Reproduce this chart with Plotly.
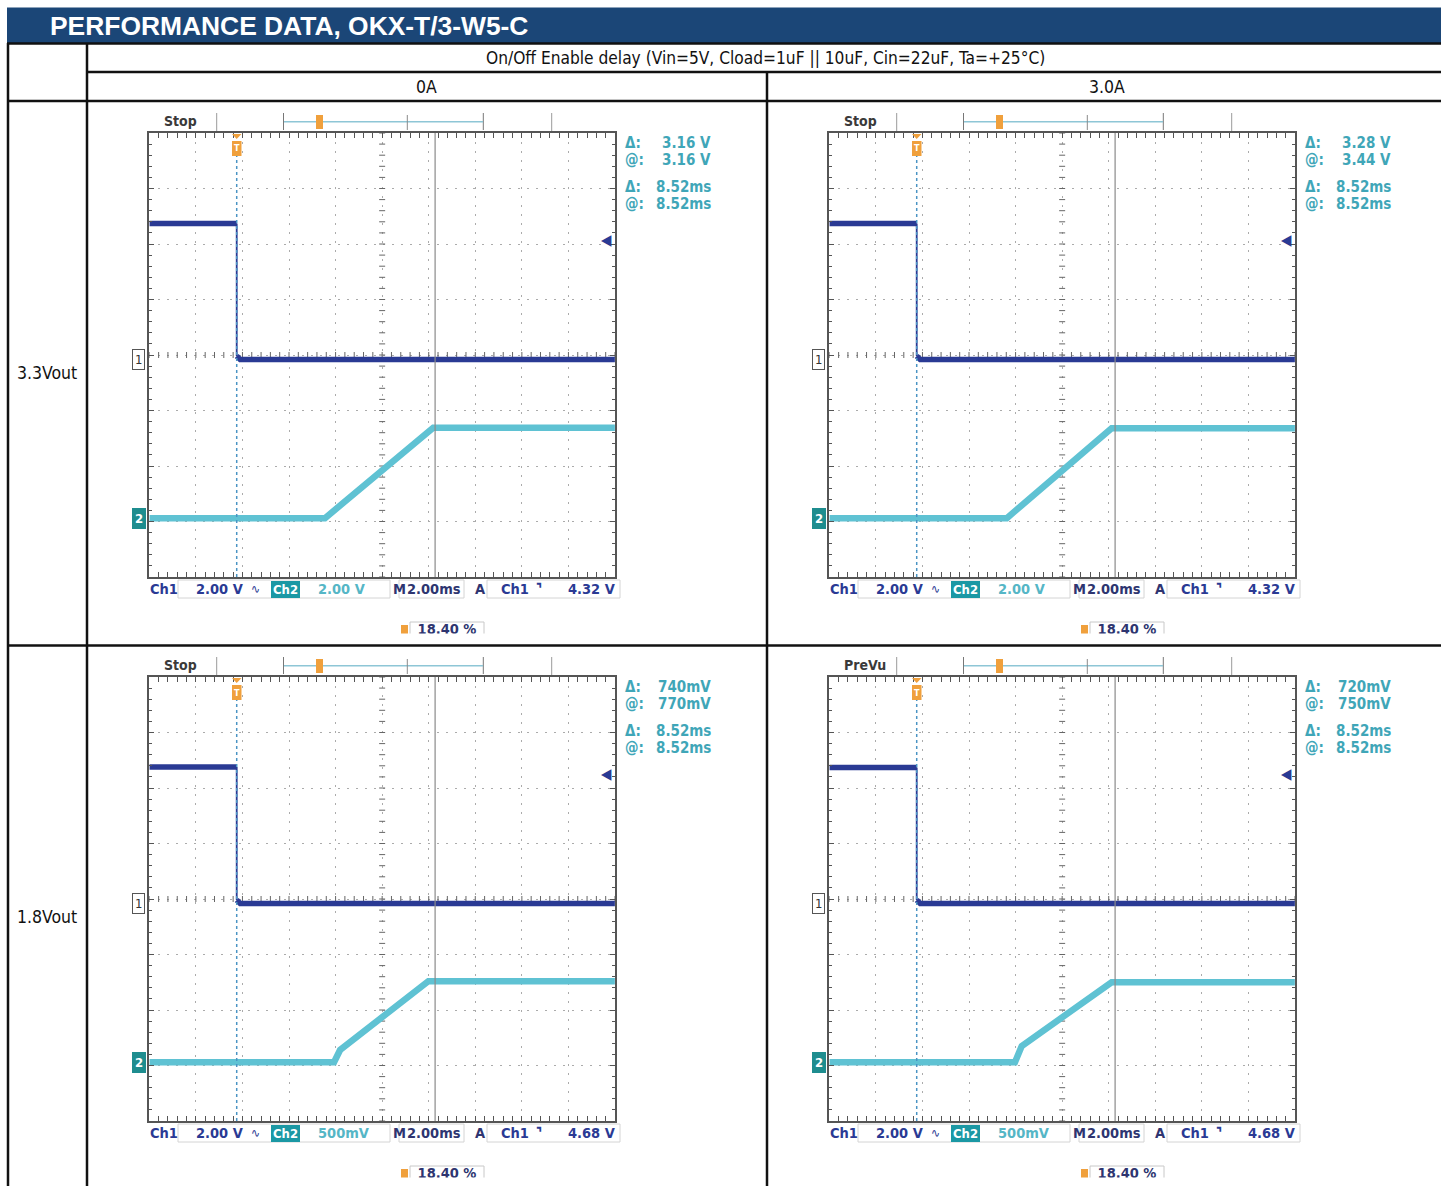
import numpy as np
import plotly.graph_objects as go

W, H = 1441, 1186

# ---------------- data ----------------
TITLE = "PERFORMANCE DATA, OKX-T/3-W5-C"
CONDITIONS = "On/Off Enable delay (Vin=5V, Cload=1uF || 10uF, Cin=22uF, Ta=+25°C)"
LOAD_LABELS = ["0A", "3.0A"]
VOUT_LABELS = ["3.3Vout", "1.8Vout"]

# panels: 3.3V/0A, 3.3V/3.0A, 1.8V/0A, 1.8V/3.0A
ACQ_STATE = ["Stop", "Stop", "Stop", "PreVu"]
CH1_VDIV = [2.0, 2.0, 2.0, 2.0]
CH2_VDIV = [2.0, 2.0, 0.5, 0.5]
CH1_VDIV_TXT = ["2.00 V", "2.00 V", "2.00 V", "2.00 V"]
CH2_VDIV_TXT = ["2.00 V", "2.00 V", "500mV", "500mV"]
TIME_DIV_MS = 2.0
TIME_DIV_TXT = "2.00ms"
TRIG_LEVEL_V = [4.32, 4.32, 4.68, 4.68]
TRIG_LEVEL_TXT = ["4.32 V", "4.32 V", "4.68 V", "4.68 V"]
TRIG_POS_TXT = "18.40 %"
CURSOR_MS = [8.52, 8.52, 8.52, 8.52]
READ_V_DELTA = ["3.16 V", "3.28 V", "740mV", "720mV"]
READ_V_AT = ["3.16 V", "3.44 V", "770mV", "750mV"]
READ_T_DELTA = ["8.52ms", "8.52ms", "8.52ms", "8.52ms"]
READ_T_AT = ["8.52ms", "8.52ms", "8.52ms", "8.52ms"]

# Ch1 = On/Off enable (V), Ch2 = Vout (V); time in ms relative to trigger
CH1_T_TL = [-3.75, 0.0, 0.0, 0.15, 16.24]
CH1_V_TL = [4.90, 4.90, 0.12, 0.0, 0.0]
CH1_T_TR = [-3.75, 0.0, 0.0, 0.15, 16.24]
CH1_V_TR = [4.90, 4.90, 0.12, 0.0, 0.0]
CH1_T_BL = [-3.75, 0.0, 0.0, 0.15, 16.24]
CH1_V_BL = [4.92, 4.92, 0.12, 0.0, 0.0]
CH1_T_BR = [-3.75, 0.0, 0.0, 0.15, 16.24]
CH1_V_BR = [4.90, 4.90, 0.12, 0.0, 0.0]

CH2_T_TL = [-3.75, 3.79, 8.44, 16.24]
CH2_V_TL = [0.0, 0.0, 3.26, 3.26]
CH2_T_TR = [-3.75, 3.87, 8.37, 16.24]
CH2_V_TR = [0.0, 0.0, 3.24, 3.24]
CH2_T_BL = [-3.75, 4.18, 4.44, 8.23, 16.24]
CH2_V_BL = [0.0, 0.0, 0.11, 0.73, 0.73]
CH2_T_BR = [-3.75, 4.22, 4.51, 8.37, 16.24]
CH2_V_BR = [0.0, 0.0, 0.145, 0.72, 0.72]

CH1_T = [CH1_T_TL, CH1_T_TR, CH1_T_BL, CH1_T_BR]
CH1_V = [CH1_V_TL, CH1_V_TR, CH1_V_BL, CH1_V_BR]
CH2_T = [CH2_T_TL, CH2_T_TR, CH2_T_BL, CH2_T_BR]
CH2_V = [CH2_V_TL, CH2_V_TR, CH2_V_BL, CH2_V_BR]

# ---------------- layout constants ----------------
SCOPE_FONT = "DejaVu Sans Condensed, DejaVu Sans, sans-serif"
TABLE_FONT = "Liberation Sans Narrow, Arial Narrow, DejaVu Sans Condensed, sans-serif"
TITLE_FONT = "Liberation Sans, Arial, sans-serif"
CH1_COLOR = "#2a3a94"
CH2_COLOR = "#5fc2d3"
READ_COLOR = "#3fa6b8"
FRAME_COLOR = "#555555"
GRID_COLOR = "#ababab"
ORANGE = "#f0a03c"
STATUS_DARK = "#2e3570"

FRAME_L, FRAME_R, FRAME_T, FRAME_B = 149.3, 615.0, 133.0, 577.0
N_XDIV, N_YDIV = 10, 8
TRIG_DIV = 1.877
CH1_GND_DIV = 3.92
CH2_GND_DIV = 1.06
PANEL_DX = [0, 680, 0, 680]
PANEL_DY = [0, 0, 544, 544]


def X(px):
    return px / W


def Y(py):
    return 1 - py / H


shapes = []
annotations = []
layout_axes = {}
fig = go.Figure()


def text(t, x, y, size, color, family=SCOPE_FONT, xanchor="left", yanchor="middle", **kw):
    annotations.append(dict(text=t, x=X(x), y=Y(y), xref="paper", yref="paper", showarrow=False,
                            xanchor=xanchor, yanchor=yanchor,
                            font=dict(size=size, color=color, family=family), **kw))


def line(x0, y0, x1, y1, color, width=1.0, dash="solid"):
    shapes.append(dict(type="line", xref="paper", yref="paper", x0=X(x0), y0=Y(y0), x1=X(x1), y1=Y(y1),
                       line=dict(color=color, width=width, dash=dash)))


def rect(x0, y0, x1, y1, color=None, fill=None, width=1.0):
    shapes.append(dict(type="rect", xref="paper", yref="paper", x0=X(x0), y0=Y(y1), x1=X(x1), y1=Y(y0),
                       line=dict(color=color or "rgba(0,0,0,0)", width=width if color else 0),
                       fillcolor=fill or "rgba(0,0,0,0)"))


def aname(kind, n):
    return f"{kind}axis" if n == 1 else f"{kind}axis{n}"


def aref(kind, n):
    return kind if n == 1 else f"{kind}{n}"


# ---------------- table ----------------
rect(7, 7.5, 1441, 43, fill="#1b4677")
text("<b>" + TITLE + "</b>", 48, 26, 26.4, "white", family=TITLE_FONT)
TL = "#111111"
line(7, 43.5, 1441, 43.5, TL, 2.5)
line(8, 43, 8, 1186, TL, 2.5)
line(87, 43, 87, 1186, TL, 2.5)
line(87, 72, 1441, 72, TL, 2.5)
line(8, 101, 1441, 101, TL, 2.5)
line(767, 72, 767, 1186, TL, 2.5)
line(8, 645.5, 1441, 645.5, TL, 2.5)
text(CONDITIONS, 766, 58, 17.2, TL, family=TABLE_FONT, xanchor="center")
text(LOAD_LABELS[0], 427, 87, 17.5, TL, family=TABLE_FONT, xanchor="center")
text(LOAD_LABELS[1], 1107, 87, 17.5, TL, family=TABLE_FONT, xanchor="center")
text(VOUT_LABELS[0], 47, 373, 17.5, TL, family=TABLE_FONT, xanchor="center")
text(VOUT_LABELS[1], 47, 917, 17.5, TL, family=TABLE_FONT, xanchor="center")

# ---------------- scope panels ----------------
t_left = -TRIG_DIV * TIME_DIV_MS
t_right = (N_XDIV - TRIG_DIV) * TIME_DIV_MS

for p in range(4):
    dx, dy = PANEL_DX[p], PANEL_DY[p]
    xa, xaux = 2 * p + 1, 2 * p + 2
    yb, yc, yaux = 3 * p + 1, 3 * p + 2, 3 * p + 3
    s1, s2 = CH1_VDIV[p], CH2_VDIV[p]
    r1 = [-CH1_GND_DIV * s1, (N_YDIV - CH1_GND_DIV) * s1]
    r2 = [-CH2_GND_DIV * s2, (N_YDIV - CH2_GND_DIV) * s2]

    common = dict(showline=True, linecolor=FRAME_COLOR, linewidth=2, mirror="allticks",
                  showgrid=True, gridcolor=GRID_COLOR, gridwidth=1, griddash="2px,7px",
                  zeroline=False, showticklabels=False, ticks="inside", ticklen=5,
                  tickcolor=FRAME_COLOR, tickwidth=1, fixedrange=True)
    layout_axes[aname("x", xa)] = dict(common, domain=[X(FRAME_L + dx), X(FRAME_R + dx)],
                                       range=[t_left, t_right], anchor=aref("y", yb),
                                       tick0=t_left, dtick=TIME_DIV_MS,
                                       minor=dict(ticks="inside", ticklen=3, tickcolor=FRAME_COLOR,
                                                  dtick=TIME_DIV_MS / 5, tick0=t_left, showgrid=False))
    layout_axes[aname("y", yb)] = dict(common, domain=[Y(FRAME_B + dy), Y(FRAME_T + dy)],
                                       range=r1, anchor=aref("x", xa), tick0=r1[0], dtick=s1,
                                       minor=dict(ticks="inside", ticklen=3, tickcolor=FRAME_COLOR,
                                                  dtick=s1 / 5, tick0=r1[0], showgrid=False))
    layout_axes[aname("y", yc)] = dict(overlaying=aref("y", yb), anchor=aref("x", xa), range=r2,
                                       visible=False, fixedrange=True)
    # auxiliary axes (pixel space) used to clip the partially cut trigger-position readout
    layout_axes[aname("x", xaux)] = dict(domain=[X(130 + dx), X(720 + dx)], range=[130, 720],
                                         anchor=aref("y", yaux), visible=False, fixedrange=True)
    layout_axes[aname("y", yaux)] = dict(domain=[Y(633.5 + dy), Y(605 + dy)], range=[633.5, 605],
                                         anchor=aref("x", xaux), visible=False, fixedrange=True)

    # center-cross ticks
    xc = t_left + N_XDIV / 2 * TIME_DIV_MS
    yc1 = (r1[0] + r1[1]) / 2
    hx = 3.0 / ((FRAME_R - FRAME_L) / N_XDIV) * TIME_DIV_MS
    hy = 3.0 / ((FRAME_B - FRAME_T) / N_YDIV) * s1
    tx, ty = [], []
    for v in np.arange(t_left, t_right + 1e-9, TIME_DIV_MS / 5):
        tx += [v, v, None]
        ty += [yc1 - hy, yc1 + hy, None]
    for v in np.arange(r1[0], r1[1] + 1e-9, s1 / 5):
        tx += [xc - hx, xc + hx, None]
        ty += [v, v, None]
    fig.add_trace(go.Scatter(x=tx, y=ty, mode="lines", line=dict(color="#666666", width=1),
                             xaxis=aref("x", xa), yaxis=aref("y", yb), hoverinfo="skip", showlegend=False))

    # cursor and trigger-position lines
    shapes.append(dict(type="line", xref=aref("x", xa), yref=aref("y", yb) + " domain",
                       x0=CURSOR_MS[p], x1=CURSOR_MS[p], y0=0, y1=1, line=dict(color="#8a8a8a", width=1.2)))
    shapes.append(dict(type="line", xref=aref("x", xa), yref=aref("y", yb) + " domain",
                       x0=0, x1=0, y0=0, y1=0.97, line=dict(color="#4a94c4", width=1.5, dash="dot")))

    # waveforms: ch1 levels thick, fast falling edge thin
    t1, v1 = CH1_T[p], CH1_V[p]
    fall = int(np.argmax(np.diff(v1) < -1.0))
    for seg, wdt in ((slice(0, fall + 1), 5.5), (slice(fall, fall + 2), 1.8), (slice(fall + 1, None), 5.5)):
        fig.add_trace(go.Scatter(x=t1[seg], y=v1[seg], mode="lines",
                                 line=dict(color=CH1_COLOR, width=wdt), xaxis=aref("x", xa),
                                 yaxis=aref("y", yb), hoverinfo="skip", showlegend=False))
    fig.add_trace(go.Scatter(x=CH2_T[p], y=CH2_V[p], mode="lines",
                             line=dict(color=CH2_COLOR, width=6.5), xaxis=aref("x", xa),
                             yaxis=aref("y", yc), hoverinfo="skip", showlegend=False))

    # trigger level arrow
    annotations.append(dict(text="◀", x=t_right, y=TRIG_LEVEL_V[p], xref=aref("x", xa), yref=aref("y", yb),
                            showarrow=False, xanchor="right", yanchor="middle", xshift=-1,
                            font=dict(size=15, color=CH1_COLOR, family=SCOPE_FONT)))
    # channel ground markers
    annotations.append(dict(text="1", x=X(138.5 + dx), y=0, xref="paper", yref=aref("y", yb),
                            showarrow=False, xanchor="center", yanchor="middle",
                            bgcolor="white", bordercolor="#555555", borderwidth=1, borderpad=2,
                            font=dict(size=13, color="#333333", family=SCOPE_FONT)))
    annotations.append(dict(text="<b>2</b>", x=X(139 + dx), y=0, xref="paper", yref=aref("y", yc),
                            showarrow=False, xanchor="center", yanchor="middle",
                            bgcolor="#1e8d8f", bordercolor="#1e8d8f", borderwidth=1, borderpad=2,
                            font=dict(size=13, color="white", family=SCOPE_FONT)))

    # top bar
    text("<b>" + ACQ_STATE[p] + "</b>", 162 + dx, 121 + dy, 14, "#3a3a3a")
    line(216.7 + dx, 113 + dy, 216.7 + dx, 131 + dy, "#9a9a9a", 1)
    line(551.7 + dx, 113 + dy, 551.7 + dx, 131 + dy, "#9a9a9a", 1)
    line(283.5 + dx, 113 + dy, 283.5 + dx, 130 + dy, "#777777", 1)
    line(483.3 + dx, 113 + dy, 483.3 + dx, 130 + dy, "#777777", 1)
    line(284 + dx, 121.7 + dy, 483 + dx, 121.7 + dy, "#8ec6d6", 1.5)
    line(407.3 + dx, 115 + dy, 407.3 + dx, 130 + dy, "#8a8a8a", 1)
    rect(316 + dx, 115 + dy, 323 + dx, 129 + dy, fill=ORANGE)
    # trigger position marker
    shapes.append(dict(type="path", xref="paper", yref="paper",
                       path=f"M {X(232 + dx)},{Y(134 + dy)} L {X(241.5 + dx)},{Y(134 + dy)} L {X(236.7 + dx)},{Y(139 + dy)} Z",
                       fillcolor=ORANGE, line=dict(width=0)))
    rect(232 + dx, 141 + dy, 241.5 + dx, 156 + dy, fill=ORANGE)
    text("<b>T</b>", 236.8 + dx, 148.5 + dy, 9, "white", xanchor="center")

    # cursor readouts
    for i, (lab, val) in enumerate([("Δ:", READ_V_DELTA[p]), ("@:", READ_V_AT[p]),
                                    ("Δ:", READ_T_DELTA[p]), ("@:", READ_T_AT[p])]):
        yy = [143, 160, 187, 204][i] + dy
        text("<b>" + lab + "</b>", 623 + dx, yy, 15, READ_COLOR)
        text("<b>" + val + "</b>", 713 + dx, yy, 15, READ_COLOR, xanchor="right")

    # status line
    sy = 589 + dy
    rect(178 + dx, 580 + dy, 390 + dx, 598 + dy, color="#d4d4d4", width=1)
    rect(399 + dx, 580 + dy, 464 + dx, 598 + dy, color="#d4d4d4", width=1)
    rect(487 + dx, 580 + dy, 620 + dx, 598 + dy, color="#d4d4d4", width=1)
    text("<b>Ch1</b>", 148 + dx, sy, 14.5, CH1_COLOR)
    text("<b>" + CH1_VDIV_TXT[p] + "</b>", 194 + dx, sy, 14.5, CH1_COLOR)
    text("∿", 249 + dx, sy, 12, CH1_COLOR)
    rect(271 + dx, 581 + dy, 300 + dx, 598 + dy, fill="#1b98a4")
    text("<b>Ch2</b>", 285.5 + dx, sy, 13, "white", xanchor="center")
    text("<b>" + CH2_VDIV_TXT[p] + "</b>", 316 + dx, sy, 14.5, "#55b6c6")
    text("<b>M</b>", 391 + dx, sy, 14.5, STATUS_DARK)
    text("<b>" + TIME_DIV_TXT + "</b>", 405 + dx, sy, 14.5, STATUS_DARK)
    text("<b>A</b>", 473 + dx, sy, 14.5, STATUS_DARK)
    text("<b>Ch1</b>", 499 + dx, sy, 14.5, CH1_COLOR)
    text("<b>⌝</b>", 534 + dx, sy, 15, CH1_COLOR)
    text("<b>" + TRIG_LEVEL_TXT[p] + "</b>", 618 + dx, sy, 14.5, CH1_COLOR, xanchor="right")

    # trigger position readout (partially cut off at the bottom of the screenshot)
    shapes.append(dict(type="rect", xref=aref("x", xaux), yref=aref("y", yaux), x0=410, x1=484, y0=622, y1=645,
                       line=dict(color="#c8c8c8", width=1), fillcolor="rgba(0,0,0,0)"))
    shapes.append(dict(type="rect", xref=aref("x", xaux), yref=aref("y", yaux), x0=401, x1=408, y0=625, y1=645,
                       line=dict(width=0), fillcolor=ORANGE))
    fig.add_trace(go.Scatter(x=[447], y=[630.5], mode="text", text=["<b>" + TRIG_POS_TXT + "</b>"],
                             textfont=dict(size=14.5, color=STATUS_DARK, family=SCOPE_FONT),
                             textposition="middle center", cliponaxis=True,
                             xaxis=aref("x", xaux), yaxis=aref("y", yaux), hoverinfo="skip", showlegend=False))

fig.update_layout(width=W, height=H, autosize=False, margin=dict(l=0, r=0, t=0, b=0),
                  paper_bgcolor="white", plot_bgcolor="white", showlegend=False,
                  shapes=shapes, annotations=annotations, **layout_axes)

fig.write_html("out.html", config={"displayModeBar": False},
               post_script="document.body.style.margin='0px';document.body.style.overflow='hidden';")
